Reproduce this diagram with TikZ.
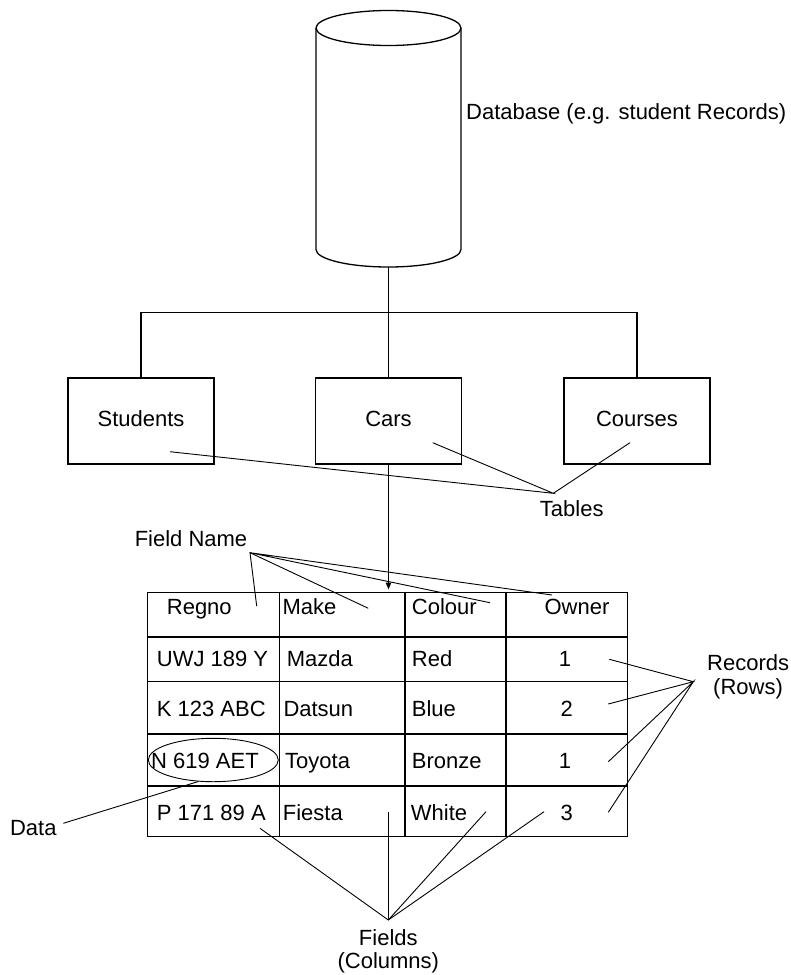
\documentclass[tikz,border=0pt]{standalone}
\usepackage{fontspec}
\setmainfont{Liberation Sans}
\usetikzlibrary{shapes.geometric,arrows.meta}
\begin{document}
\begin{tikzpicture}[x=1pt,y=-1pt,
  every node/.style={font=\fontsize{22}{25}\selectfont},
  thick line/.style={line width=1.3pt},
  tbox/.style={draw, line width=1.3pt, minimum width=146pt, minimum height=86pt, inner sep=0pt, text height=15.5pt, text depth=5.5pt},
  lbl/.style={inner sep=0pt, anchor=base},
  cellw/.style={inner sep=0pt, anchor=base west},
  cellc/.style={inner sep=0pt, anchor=base},
  ptr/.style={line width=0.9pt},
  tblline/.style={line width=1.4pt},
]
\useasboundingbox (0,0) rectangle (791,975);

% database cylinder
\node[inner sep=0pt, minimum width=145pt, minimum height=239pt] (db) at (388.5,147.5) {};
\draw[thick line] (388.5,28) ellipse [x radius=72.5pt, y radius=17.5pt];
\draw[thick line] (316,28) -- (316,249.5) arc[start angle=180, end angle=360, x radius=72.5pt, y radius=17.5pt] -- (461,28);
\node[cellw] (dblabel) at (466,119.3) {Database (e.g. student Records)};

% tables
\node[tbox] (stud) at (141,421) {Students};
\node[tbox] (cars) at (388.5,421) {Cars};
\node[tbox] (crs) at (637,421) {Courses};
\coordinate (hub) at (388.5,312.3);
\draw[thick line] (db.south) -- (cars.north);
\draw[thick line] (stud.north) |- (hub) -| (crs.north);

% Tables label
\node[lbl] (tables) at (571.7,516) {Tables};
\coordinate (tablesTip) at (553.3,493.3);
\coordinate (studPt) at (170,451.7);
\coordinate (carsPt) at (432.7,442.7);
\coordinate (crsPt) at (630,442.7);
\draw[ptr] (studPt) -- (tablesTip) -- (carsPt);
\draw[ptr] (crsPt) -- (tablesTip);

% arrow from Cars to table
\coordinate (tblTop) at (388.5,589.5);
\draw[thick line, -{Triangle[length=7pt,width=5.5pt]}] (cars.south) -- (tblTop);

% table grid
\draw[tblline] (147.5,592.7) rectangle (627.3,836.7);
\foreach \x in {279.3,405,506} \draw[tblline] (\x,592.7) -- (\x,836.7);
\foreach \y in {681.7,734,786} \draw[tblline] (147.5,\y) -- (627.3,\y);
\draw[line width=2.6pt] (147.5,637) -- (627.3,637);

% header
\node[cellw] (hRegno) at (166.7,614) {Regno};
\node[cellw] (hMake) at (282.3,614) {Make};
\node[cellw] (hColour) at (411.7,614) {Colour};
\node[cellc] (hOwner) at (577,614) {Owner};
% row 1
\node[cellw] (r1a) at (156.7,666) {UWJ 189 Y};
\node[cellw] (r1b) at (286.7,666) {Mazda};
\node[cellw] (r1c) at (411.7,666) {Red};
\node[cellc] (r1d) at (565,666) {1};
% row 2
\node[cellw] (r2a) at (156.7,716.7) {K 123 ABC};
\node[cellw] (r2b) at (283.3,716.7) {Datsun};
\node[cellw] (r2c) at (411.7,716.7) {Blue};
\node[cellc] (r2d) at (566.7,716.7) {2};
% row 3
\node[cellw] (r3a) at (151,768.3) {N 619 AET};
\node[cellw] (r3b) at (285,768.3) {Toyota};
\node[cellw] (r3c) at (411.7,768.3) {Bronze};
\node[cellc] (r3d) at (565,768.3) {1};
% row 4
\node[cellw] (r4a) at (156.7,820.7) {P 171 89 A};
\node[cellw] (r4b) at (282.7,820.7) {Fiesta};
\node[cellw] (r4c) at (410.7,820.7) {White};
\node[cellc] (r4d) at (566.7,820.7) {3};

% Field Name
\node[lbl] (fieldname) at (191,546) {Field Name};
\coordinate (fnTip) at (250,552.7);
\coordinate (fnA) at (256.7,606);
\coordinate (fnB) at (368.3,608.3);
\coordinate (fnC) at (490,602.7);
\coordinate (fnD) at (552,595);
\draw[ptr] (fnA) -- (fnTip) -- (fnB);
\draw[ptr] (fnC) -- (fnTip) -- (fnD);

% Records
\node[cellw] (records) at (707,670) {Records};
\node[cellw] (rows) at (713,694) {(Rows)};
\coordinate (recTip) at (693.3,681.7);
\coordinate (recA) at (609.3,659.3);
\coordinate (recB) at (608.3,704);
\coordinate (recC) at (608.3,761.7);
\coordinate (recD) at (608.3,812.3);
\draw[ptr] (recA) -- (recTip) -- (recB);
\draw[ptr] (recC) -- (recTip) -- (recD);

% Data
\node[draw, ptr, ellipse, inner sep=0pt, minimum width=130pt, minimum height=43.4pt] (dataell) at (213.3,760) {};
\node[lbl] (data) at (33.3,835) {Data};
\coordinate (dataPt) at (63.3,823.3);
\draw[ptr] (dataPt) -- (dataell.235);

% Fields
\node[lbl] (fields) at (388.3,945) {Fields};
\node[lbl] (columns) at (388.3,968) {(Columns)};
\coordinate (fTip) at (388.3,920);
\coordinate (fA) at (260,828.3);
\coordinate (fB) at (388.3,811.7);
\coordinate (fC) at (486,811.7);
\coordinate (fD) at (544,811.7);
\draw[ptr] (fA) -- (fTip) -- (fC);
\draw[ptr] (fD) -- (fTip);
\draw[thick line] (fTip) -- (fB);
\end{tikzpicture}
\end{document}
